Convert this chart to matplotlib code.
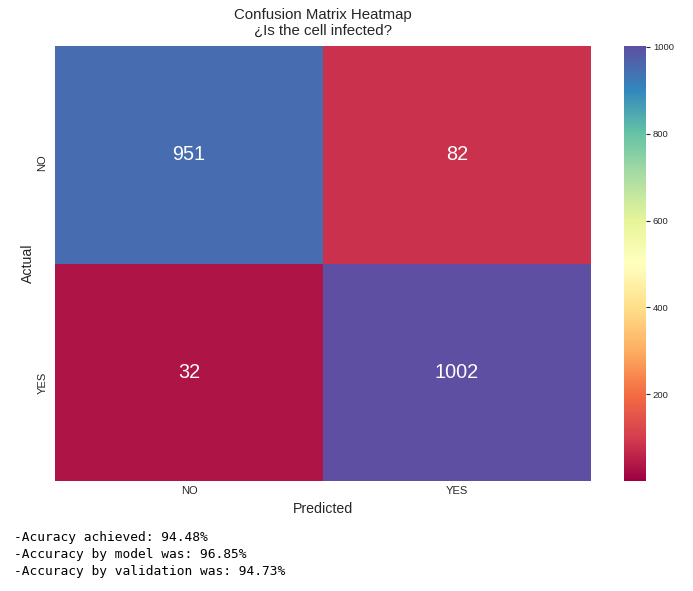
import numpy as np
import seaborn as sns
from matplotlib import pyplot as plt

# Matriz de confusao
cm_values = np.array([[951, 82], [32, 1002]])
tick_labels = ["NO", "YES"]
cbar_ticks = [200, 400, 600, 800, 1000]
notes = ["-Acuracy achieved: 94.48%",
         "-Accuracy by model was: 96.85%",
         "-Accuracy by validation was: 94.73%"]

sns.set_style("white")
plt.rcParams['font.family'] = ['Liberation Sans', 'DejaVu Sans']

W, H = 693, 591
fig = plt.figure(figsize=(W / 100, H / 100), dpi=100)
ax = fig.add_axes([55 / W, 1 - 481 / H, (591 - 55) / W, (481 - 46) / H])
cax = fig.add_axes([624 / W, 1 - 481 / H, (646 - 624) / W, (481 - 46) / H])

sns.heatmap(cm_values, annot=True, fmt="d", cmap="Spectral", vmin=0, ax=ax, cbar_ax=cax,
            xticklabels=tick_labels, yticklabels=tick_labels,
            annot_kws={"size": 14.3, "color": "white"})

ax.set_title("Confusion Matrix Heatmap\n¿Is the cell infected?", fontsize=10.8, pad=8, color=".15")
ax.set_xlabel("Predicted", fontsize=10.2, labelpad=4.5, color=".15")
ax.set_ylabel("Actual", fontsize=10.2, labelpad=2, color=".15")
ax.tick_params(axis='both', labelsize=8, length=0, labelcolor=".15")
ax.tick_params(axis='y', pad=5.5)
for lab in ax.get_yticklabels():
    lab.set_va("top")
cax.tick_params(labelsize=6.8, length=3, width=0.8, color=".15", labelcolor=".15", pad=2)
cax.set_yticks(cbar_ticks)

fig.text(14 / W, 1 - 575.5 / H, "\n".join(notes), family="DejaVu Sans Mono",
         fontsize=9.24, linespacing=1.41, va="baseline", color="black")

fig.savefig("out.png", dpi=100)
